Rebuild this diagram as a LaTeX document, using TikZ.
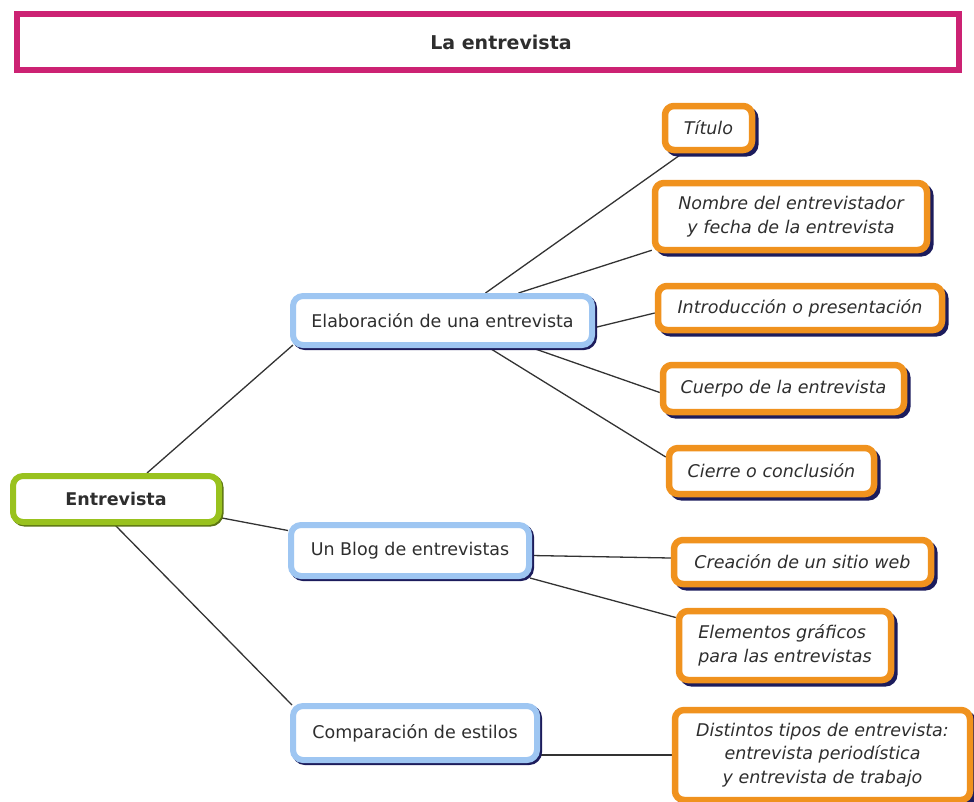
\documentclass[tikz,border=0pt]{standalone}
\usepackage{fontspec}
\setmainfont{DejaVu Sans}
\usetikzlibrary{backgrounds}
\definecolor{pinkb}{HTML}{CC2273}
\definecolor{orangeb}{HTML}{F0921E}
\definecolor{blueb}{HTML}{9EC6F2}
\definecolor{greenb}{HTML}{99C21E}
\definecolor{shadowc}{HTML}{1C1C5C}
\definecolor{txt}{HTML}{2E2E2E}
\definecolor{linec}{HTML}{333333}
\tikzset{
  basebox/.style={rounded corners=9pt, line width=6pt, fill=white, align=center,
    inner sep=0pt, text=txt, font=\fontsize{17.5}{23}\selectfont},
  bluebox/.style={basebox, draw=blueb, rounded corners=10pt,
    preaction={draw=shadowc, line width=6pt, transform canvas={xshift=2pt,yshift=-2pt}}},
  orangebox/.style={basebox, draw=orangeb, line width=6.5pt, font=\fontsize{17.5}{23.5}\selectfont\itshape,
    preaction={draw=shadowc, line width=6pt, transform canvas={xshift=3.5pt,yshift=-3.5pt}}},
  greenbox/.style={basebox, draw=greenb, rounded corners=10pt, font=\fontsize{17.5}{23}\selectfont\bfseries,
    preaction={draw=greenb!60!black, line width=6pt, transform canvas={xshift=1.5pt,yshift=-1.5pt}}},
  titlebox/.style={draw=pinkb, line width=6.5pt, fill=white, inner sep=0pt},
  conn/.style={draw=linec, line width=1.3pt},
}
\begin{document}
\begin{tikzpicture}[x=1pt,y=-1pt]
\useasboundingbox (0,0) rectangle (974,801);
% title
\node[titlebox, minimum width=942pt, minimum height=56pt] (titlebox) at (488,42) {};
\node[text=txt, font=\fontsize{19}{22}\selectfont\bfseries, inner sep=0pt] (title) at (501,42) {La entrevista};
% root
\node[greenbox, minimum width=206pt, minimum height=46pt] (entr) at (116,499) {Entrevista};
% level 1
\node[bluebox, minimum width=299pt, minimum height=49pt] (elab) at (442.5,320.5) {Elaboración de una entrevista};
\node[bluebox, minimum width=238pt, minimum height=51pt] (blog) at (410,550.5) {Un Blog de entrevistas};
\node[bluebox, minimum width=244pt, minimum height=54pt] (comp) at (415,733) {Comparación de estilos};
% level 2
\node[orangebox, minimum width=87pt, minimum height=44pt] (titulo) at (708.5,128) {Título};
\node[orangebox, minimum width=272pt, minimum height=67pt] (nombre) at (791,216.5) {Nombre del entrevistador\\y fecha de la entrevista};
\node[orangebox, minimum width=284pt, minimum height=44pt] (intro) at (800,308) {Introducción o presentación};
\node[orangebox, minimum width=241pt, minimum height=47pt] (cuerpo) at (783.5,388.5) {Cuerpo de la entrevista};
\node[orangebox, minimum width=205pt, minimum height=46pt] (cierre) at (771.5,471) {Cierre o conclusión};
\node[orangebox, minimum width=257pt, minimum height=44pt] (creacion) at (802.5,562) {Creación de un sitio web};
\node[orangebox, minimum width=212pt, minimum height=69pt, align=left] (elem) at (785,645.5) {Elementos gráficos\\para las entrevistas};
\node[orangebox, minimum width=295pt, minimum height=90pt] (dist) at (822.5,755) {Distintos tipos de entrevista:\\entrevista periodística\\y entrevista de trabajo};
% connectors
\begin{pgfonlayer}{background}
\draw[conn] ([xshift=31pt]entr.north) -- ([xshift=3pt,yshift=3pt]elab.south west);
\draw[conn] ([yshift=-19pt]entr.east) -- ([yshift=20pt]blog.west);
\draw[conn] ([xshift=-1pt]entr.south) -- ([xshift=2pt,yshift=-2pt]comp.north west);
\draw[conn] ([xshift=43pt]elab.north) -- ([xshift=-26pt]titulo.south);
\draw[conn] ([xshift=76pt]elab.north) -- ([yshift=3pt]nombre.south west);
\draw[conn] ([yshift=-7pt]elab.east) -- ([yshift=-5pt]intro.west);
\draw[conn] ([xshift=90pt]elab.south) -- ([yshift=-4pt]cuerpo.west);
\draw[conn] ([xshift=47pt]elab.south) -- ([yshift=14pt]cierre.west);
\draw[conn] ([yshift=-5pt]blog.east) -- ([yshift=4pt]creacion.west);
\draw[conn] ([xshift=-2pt,yshift=1pt]blog.south east) -- ([yshift=28pt]elem.west);
\draw[conn] ([yshift=-22pt]comp.east) -- (dist.west);
\end{pgfonlayer}
\end{tikzpicture}
\end{document}
